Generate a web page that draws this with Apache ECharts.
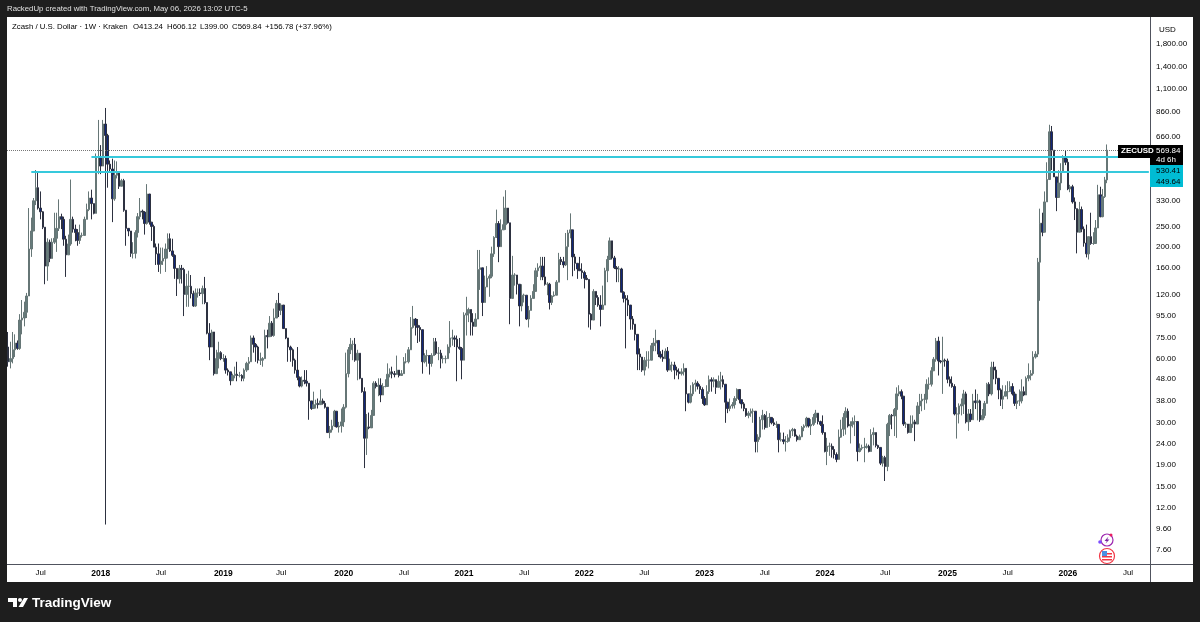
<!DOCTYPE html>
<html>
<head>
<meta charset="utf-8">
<title>ZECUSD</title>
<script src="https://cdn.jsdelivr.net/npm/echarts@6/dist/echarts.min.js"></script>
<style>
html, body { margin: 0; padding: 0; background: #1e1e1e; }
#main { width: 1200px; height: 622px; }
</style>
</head>
<body>
<div id="main"></div>
<script>
// weekly bars. open of a bar = close of the bar before
var firstOpen = 68;
var closes = [58,60,66,71,67,91,93,99,118,196,238,330,380,305,293,248,163,211,177,211,
220,245,278,270,218,184,207,270,243,234,215,227,227,270,300,340,320,288,528,530,
480,756,668,490,465,337,435,445,386,410,298,245,238,187,187,234,278,295,292,258,
355,262,250,200,186,166,172,177,196,219,192,183,159,142,159,157,120,131,131,121,
106,122,122,121,128,110,79,68,80,51,60,64,60,60,53,52,
47.3,50,50.7,50,50,48.5,53,57,58,75,70,68,59,59,60,77,76,88,77,93,
109,101,107,83,75,68,66,59,53,49,44.6,47.5,47,46,38,35,36.5,37,36.5,38,
37,35.5,27,27.8,29,34,28.7,29,30.3,35.5,51,66,70,70,59,63.6,48.5,42,25.4,28.7,
28.4,32.5,46,44.4,45,40.5,44.4,44.4,50.7,52,51,50.5,53,50,51,58,58,66,84,92,
86,84,82,58,62,62,57,62,72,63.6,63.6,60,60,60,68,75,75,74,68,
67,59,96,98,102,89,85,92,157,160,110,130,143,146,186,222,258,201,241,255,
305,260,115,148,148,134,106,119,119,92,101,115,124,155,160,163,145,134,134,110,
118,119,137,175,171,165,201,233,241,180,168,158,155,152,143,141,97,91,124,116,
107,102,107,155,175,214,178,160,158,158,123,115,113,107,92,87,78,63,61,53,
59,59,59,69,71,73,63,61,60,65,53,56,56,53,52,
51,52,54,41,37.5,41,45.5,46,44.5,43,39,36.4,42,47.8,47,47.8,44,47,47.8,45.5,
37.5,35,36,36.5,39,43,38.5,36.8,35,32.5,33.3,34,34,24.5,25.7,31,32.5,28.5,31.8,31.8,
30,29.5,29.5,25,25,24.5,24.5,25.5,27.5,27.9,26,25,25.8,28.5,29,31.5,29,29.5,31.8,33.3,
30.4,29.5,27,22,23.3,23.3,22.5,21.3,20.2,25.7,28,31.8,34,29,29.5,30.4,30.4,22,22.8,23,
23,23.3,22,26.4,27,23.5,23,19.4,20.6,18.7,29.5,32.5,32.3,34.6,
41,42,40,29.6,29.6,27,29.6,30.3,29.6,36,38,38.7,38.7,45.5,45.5,52.6,59.6,72.5,58.5,58,
59,58.5,48,46,44.4,33,33,36,36.7,41,30.3,33,31,38,37.3,38,31,32.5,37,45.5,
41,54.7,53,48.5,42.8,38.7,40,42,42,44.4,41,37,38,38,42,40.5,48.5,50,51,61,
63,170,259,235,326,415,695,570,427,342,400,450,530,500,375,384,326,303,235,300,
243,209,186,224,208,208,246,352,278,345,413.24,569.84];
var highs = [80,72,80,78,73,97,113,111,122,305,275,340,460,455,365,295,245,220,217,220,
290,290,335,287,278,226,229,415,278,255,243,255,234,278,320,365,372,320,550,790,
602,790,899,680,510,520,510,505,455,418,418,298,245,238,211,240,289,340,300,295,
395,355,262,255,208,208,199,199,208,232,232,219,185,159,165,165,160,150,155,148,
125,128,128,128,132,145,110,88,82,80,66,72,65,63,62,54,
51,51,55,58,52,50.7,54,58,61,77,77,71,69,64,61,82,82,95,90,103,
113,122,109,107,83,75,69,67,60,68,49.5,49.5,53,53,46,38,42,38.5,39,43,
39,38,35.5,29,31,34.5,33.5,30.3,35,36.7,64,68,75,73,75,66,63.6,48,44,33,
33.5,34.5,47,47,48.5,48.5,46,48,57,54,55,52.5,62,53,53,61,63.6,68,94,106,
93,92,86,82,63.6,66,62,63.6,75,75,68,66,62,62,70,90,82,77,77,
75,68,99,117,104,102,98,98,194,194,160,147,163,149,201,225,300,265,270,345,
370,305,260,182,151,148,134,134,121,110,106,119,134,160,168,180,180,180,137,136,
119,124,140,188,180,180,233,241,288,241,186,168,180,168,155,148,141,98,127,124,
119,119,132,160,182,222,214,182,163,163,160,124,119,119,107,95,87,78,67,61,
61,65,65,71,75,82,73,65,66,67,68,60,58,58,55,
54,54,57,54,41,45,46.5,47.8,47,45.5,44,40,45,50,49,49,47.8,50,52,50,
45.5,37.5,39,37.5,40,43.5,43,38.5,37.5,35,34,35,35,32.5,26.5,32,34.5,33,34,33.3,
31.8,31.5,30.5,29.5,27,27,26,26.5,27.9,28.4,28.2,26.4,26.4,29,29.5,32,31.5,31.2,33,34.5,
33.3,30.7,32.5,27,25.5,24.2,24,23.3,21.8,27.9,31,33.3,35.5,35,30.5,31.8,32.5,28.5,24,23.7,
25.5,24,23.7,28,28.5,26.4,23.7,23,21,21,30,33,33,35.2,
44,45,43,40,30.3,29.6,32.5,32.5,31,37.5,41,41,41,48,49,54.7,61,75,76,59,
76,60,60,49.5,49.5,45.5,35.5,37,39,42.8,42,34.8,34.8,41,43,41,38.5,34.8,38,46.2,
46.5,58,58,55,48.5,43.5,45,45,47,47,46,42,41,43,48,44.4,49.5,57,53,65,
65,178,303,290,365,500,750,740,570,427,459,495,540,570,520,392,392,342,303,326,
310,250,255,224,290,235,268,392,384,375,427,606.12];
var lows = [55,54,57,61,66,66,78,85,93,118,180,238,315,300,270,243,134,139,170,177,
207,190,238,243,203,145,184,203,234,213,203,207,222,227,270,295,270,285,288,440,
440,490,10,380,450,262,330,420,375,386,293,203,225,180,177,177,222,270,270,229,
255,255,214,200,165,153,150,165,153,177,190,180,142,118,135,135,95,105,105,115,
105,105,116,118,108,108,78,59,68,50,51,54,59,58,51,50,
45,47.3,48.5,47,49,47,47,52,53,58,64,58,57,56,55,60,67,76,76,76,
93,94,96,83,74,58,58,55,51,47.5,44,44,45.5,44.4,31,34.5,35,35,35,36.5,
36.5,35,27,25.4,27,28.7,28.5,27,27,28.7,35,49,63,59,58,47.5,48,41.5,18.4,21.2,
28,28.4,35,43.5,40,37.5,40.5,44,45,49,48.5,49,50.5,49,50,51,57,57,66,83,
77,71,72,51,57,55,50.5,55,62,62.5,59,54,57,57,60,63.6,69,68,47,
66,48,59,77,89,77,77,85,92,126,95,110,130,117,143,180,222,170,201,241,
241,258,87,115,132,120,85,100,110,91,84,101,115,124,145,140,140,132,119,102,
107,117,119,137,165,160,163,140,220,146,155,142,155,142,128,140,84,82,92,107,
105,85,102,107,137,178,175,158,137,137,123,110,67,95,82,82,73,53,53,52,
50,55,54,59,65,65,61,60,58,60,52,53,52,48,50,
48,50,50,34,37,37,40,42,43,41,36.8,36,36.4,41,42,44,41,44,43,44,
30,33.3,34,35,35,38,37,35,34,32,31.5,32,30,21.8,21.8,25,27.9,27.9,28.4,28.7,
29.5,29,28.4,21.8,24.5,23.8,22,24.2,24.5,26,25.8,24.5,25,25.7,27.4,28.5,28.5,26.3,29,30,
29.5,29,26.4,21.8,19,21,20.6,20.4,19.6,20.2,25.5,26,26.4,28.5,24,28.5,26,19.8,21.8,22.3,
19.6,22.7,21.8,22,23.5,23,22.6,19,18.7,16,17.8,26,28,26,
25.5,40,38.7,29,28.4,26.7,27.4,28.4,24.6,29.6,33,34,34.5,37,43,44.4,52.6,58,50,57,
41,55,46,44.4,43.8,32.5,25.3,29.8,32.5,33,29.8,27.5,30.3,31,34.8,30.8,30.3,31,31.5,37,
40,40.3,48,45.5,38.7,36,34.8,40,38.7,42.8,40.3,36,34.8,36,37,40,41,47,47.5,50,
60,61,112,225,235,326,415,460,427,295,342,370,450,485,370,362,320,268,187,235,
235,201,179,175,205,205,208,246,276,276,340,399];

// axis stuff
var startWeek = '2017-03-27';
var weekCount = 494;   // includes the empty weeks right of the last bar
var xTickDates = ['2017-07-03','2018-01-01','2018-07-02','2019-01-07','2019-07-01','2020-01-06','2020-07-06','2021-01-04','2021-07-05',
  '2022-01-03','2022-07-04','2023-01-02','2023-07-03','2024-01-01','2024-07-01','2025-01-06','2025-07-07','2026-01-05','2026-07-06'];
var xTickLabels = ['Jul','2018','Jul','2019','Jul','2020','Jul','2021','Jul','2022','Jul','2023','Jul','2024','Jul','2025','Jul','2026','Jul'];
var yTicks = [1800,1400,1100,860,660,330,250,200,160,120,95,75,60,48,38,30,24,19,15,12,9.6,7.6];

var lastPrice = 569.84, lineHigh = 530.41, lineLow = 449.64;
var lineHighStart = 36, lineLowStart = 10;  // week index where the drawn levels begin

var weeks = [];
var t0 = Date.parse(startWeek + 'T00:00:00Z');
for (var i = 0; i < weekCount; i++) {
  weeks.push(new Date(t0 + i * 7 * 86400000).toISOString().slice(0, 10));
}

// echarts wants [open, close, low, high]
var bars = [];
for (var j = 0; j < closes.length; j++) {
  var o = j === 0 ? firstOpen : closes[j - 1];
  var c = closes[j];
  bars.push([o, c, Math.min(lows[j], o, c), Math.max(highs[j], o, c)]);
}

var font = '"Liberation Sans", sans-serif';
var ink = '#000000';

function txt(x, y, s, size, color, extra) {
  var st = { text: s, font: (extra || '') + ' ' + size + 'px ' + font, fill: color, textVerticalAlign: 'middle' };
  return { type: 'text', x: x, y: y, z: 50, silent: true, style: st };
}
function box(x, y, w, h, color, z) {
  return { type: 'rect', z: z === undefined ? 50 : z, silent: true, shape: { x: x, y: y, width: w, height: h }, style: { fill: color } };
}

var elements = [
  box(7, 17, 1186, 565, '#ffffff', -10),
  box(7, 564, 1186, 1, '#50535e', 40),
  box(1150, 17, 1, 565, '#50535e', 40),
  txt(7, 9, 'RackedUp created with TradingView.com, May 06, 2026 13:02 UTC-5', 7.8, '#e0e0e0'),
  txt(12, 27, 'Zcash / U.S. Dollar · 1W · Kraken', 7.8, ink),
  txt(133, 27, 'O413.24', 7.8, ink),
  txt(167, 27, 'H606.12', 7.8, ink),
  txt(200, 27, 'L399.00', 7.8, ink),
  txt(232, 27, 'C569.84', 7.8, ink),
  txt(265, 27, '+156.78 (+37.96%)', 7.8, ink),
  txt(1159, 30, 'USD', 8, ink),
  // price tags
  box(1118, 145, 65, 13, '#000000'),
  box(1150, 158, 33, 7, '#000000'),
  txt(1121, 151, 'ZECUSD', 8, '#ffffff', 'bold'),
  txt(1156, 151, '569.84', 8, '#ffffff'),
  txt(1156, 160, '4d 6h', 8, '#ffffff'),
  box(1150, 165, 33, 22, '#00bcd4'),
  txt(1156, 171, '530.41', 8, ink),
  txt(1156, 182, '449.64', 8, ink),
  // logo
  { type: 'polygon', z: 50, silent: true, shape: { points: [[8, 598], [17, 598], [17, 607], [13, 607], [13, 602], [8, 602]] }, style: { fill: '#ffffff' } },
  { type: 'circle', z: 50, silent: true, shape: { cx: 20, cy: 600, r: 2 }, style: { fill: '#ffffff' } },
  { type: 'polygon', z: 50, silent: true, shape: { points: [[24, 598], [28, 598], [23, 607], [18.5, 607]] }, style: { fill: '#ffffff' } },
  txt(32, 603, 'TradingView', 13.5, '#ffffff', 'bold'),
  // events icons
  { type: 'circle', z: 50, silent: true, shape: { cx: 1107, cy: 540, r: 6 }, style: { fill: '#ffffff', stroke: '#9c27b0', lineWidth: 1.2 } },
  { type: 'polygon', z: 51, silent: true, shape: { points: [[1108.5, 536.5], [1104.5, 541], [1106.8, 541], [1105.5, 543.5], [1109.5, 539.5], [1107.2, 539.5]] }, style: { fill: '#7b1fa2' } },
  { type: 'circle', z: 51, silent: true, shape: { cx: 1111, cy: 535, r: 1.5 }, style: { fill: '#e91e63' } },
  { type: 'circle', z: 51, silent: true, shape: { cx: 1100, cy: 542, r: 1.8 }, style: { fill: '#7c4dff' } },
  { type: 'circle', z: 50, silent: true, shape: { cx: 1107, cy: 556, r: 7.5 }, style: { fill: '#ffffff', stroke: '#f23645', lineWidth: 1.2 } },
  box(1102, 553, 10, 1.5, '#f23645', 51),
  box(1102, 556, 10, 1.5, '#f23645', 51),
  box(1102, 559, 10, 1.5, '#f23645', 51),
  box(1102, 551, 5, 5, '#4a90e2', 52)
];

var chart = echarts.init(document.getElementById('main'), null, { renderer: 'canvas' });
chart.setOption({
  animation: false,
  backgroundColor: '#1e1e1e',
  graphic: { elements: elements },
  grid: { left: 7, right: 50, top: 17, bottom: 58 },
  xAxis: {
    type: 'category',
    data: weeks,
    axisLine: { show: false },
    axisTick: { show: false },
    splitLine: { show: false },
    axisLabel: {
      interval: function (idx, val) { return xTickDates.indexOf(val) >= 0; },
      margin: 5,
      fontFamily: 'Liberation Sans',
      fontSize: 8,
      color: ink,
      hideOverlap: false,
      formatter: function (val) {
        var lab = xTickLabels[xTickDates.indexOf(val)];
        return lab === 'Jul' ? lab : '{y|' + lab + '}';
      },
      rich: { y: { fontFamily: 'Liberation Sans', fontSize: 8.5, fontWeight: 'bold', color: ink } }
    }
  },
  yAxis: {
    type: 'log',
    position: 'right',
    min: 6.53,
    max: 2401,
    axisLine: { show: false },
    axisTick: { show: false },
    splitLine: { show: false },
    axisLabel: {
      customValues: yTicks,
      margin: 6,
      fontFamily: 'Liberation Sans',
      fontSize: 8,
      color: ink,
      formatter: function (v) {
        return Number(v).toLocaleString('en-US', { minimumFractionDigits: 2, maximumFractionDigits: 2 });
      }
    }
  },
  series: [{
    type: 'candlestick',
    data: bars,
    barWidth: 2,
    clip: true,
    itemStyle: {
      color: '#667c7c',
      color0: '#12277a',
      borderColor: '#667676',
      borderColor0: '#2d3140',
      borderWidth: 1
    },
    markLine: {
      silent: true,
      symbol: 'none',
      label: { show: false },
      animation: false,
      data: [
        { yAxis: lastPrice, lineStyle: { color: '#777777', type: 'dotted', width: 1 } },
        [{ xAxis: weeks[lineHighStart], yAxis: lineHigh, lineStyle: { color: '#36c9dc', type: 'solid', width: 2 } }, { xAxis: weeks[weekCount - 1], yAxis: lineHigh }],
        [{ xAxis: weeks[lineLowStart], yAxis: lineLow, lineStyle: { color: '#36c9dc', type: 'solid', width: 2 } }, { xAxis: weeks[weekCount - 1], yAxis: lineLow }]
      ]
    }
  }]
});
</script>
</body>
</html>
